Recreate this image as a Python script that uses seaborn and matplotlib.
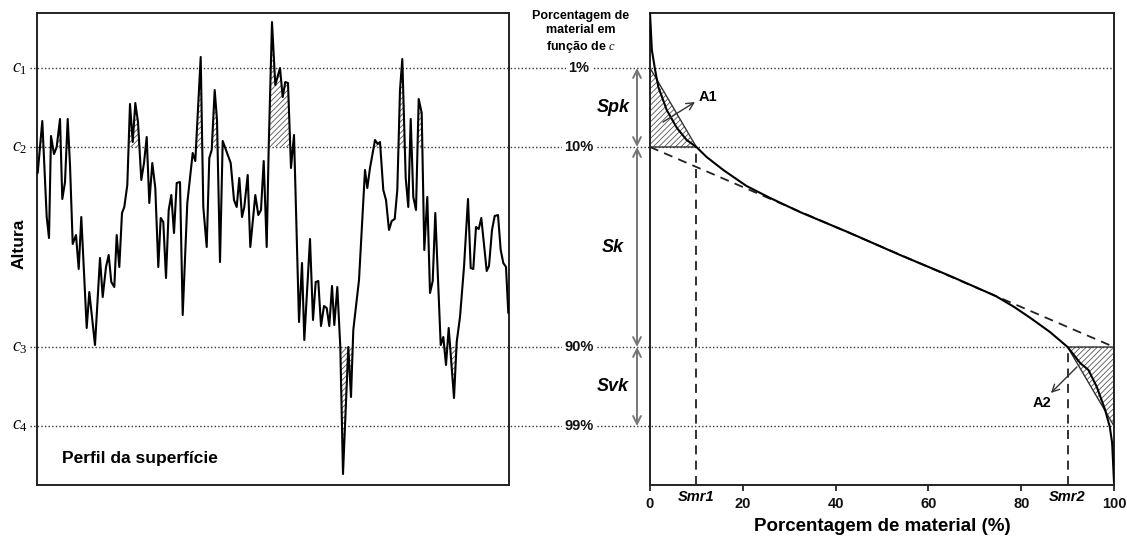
import matplotlib
matplotlib.use("Agg")
import numpy as np
import pandas as pd
import seaborn as sns
import matplotlib.pyplot as plt
import matplotlib.transforms as mtransforms
from matplotlib.patches import Polygon

# ---------------- data ----------------
profile_x = [0.7, 5.3, 9.7, 12, 14, 17, 19.7, 23, 25.3, 28,
             30.7, 33, 35.7, 39, 41.7, 44.3, 49.7, 52.3, 58, 63,
             65.7, 69, 71.7, 74.3, 77.3, 79.7, 82.3, 85, 87.3, 90.3,
             93, 95.7, 98.3, 101, 104.3, 107, 109.7, 112.3, 115.3, 118.3,
             121.3, 123.7, 126.3, 129, 131.7, 134.3, 137, 139.7, 143, 145.7,
             150.3, 155.7, 158.3, 163.7, 166.3, 169.7, 172.3, 174.7, 177.7, 180,
             183, 185.7, 189.7, 193.7, 197, 199.7, 202.3, 205, 207.3, 210.7,
             213.3, 218.3, 221.3, 224, 226.7, 229.7, 231.7, 235, 238.3, 243,
             245.7, 248.3, 251, 254, 257, 262, 265, 267.3, 273, 276,
             278.7, 281.3, 284, 287, 289.7, 292.3, 295, 297.3, 300.3, 303.3,
             306, 311.3, 314, 316.3, 322, 328, 330.3, 333, 338, 340.7,
             343, 346.3, 349, 352, 354.7, 357.7, 360.3, 363, 365.3, 368.7,
             371.3, 373.7, 376.3, 379, 381.7, 384.7, 387.3, 390.3, 393, 395.7,
             398.3, 403.7, 406.3, 409, 411.7, 417, 419.7, 423, 427, 431,
             433.7, 436.3, 439, 441.7, 444.3, 449.7, 452, 455, 457.7, 461,
             463.7, 466.3, 469, 471.3]
profile_h = [312, 364, 268, 247, 349, 331, 338, 366, 286, 303,
             366, 320, 241, 250, 216, 268, 157, 193, 140, 227,
             188, 218, 230, 203, 198, 250, 218, 272, 278, 300,
             381, 343, 382, 363, 305, 322, 348, 282, 322, 297,
             218, 267, 263, 207, 275, 290, 252, 302, 303, 170,
             282, 332, 324, 428, 278, 238, 327, 335, 395, 365,
             223, 344, 333, 322, 285, 278, 307, 268, 278, 310,
             238, 290, 270, 275, 324, 238, 338, 463, 400, 417,
             388, 403, 402, 317, 350, 163, 222, 145, 246, 165,
             203, 204, 159, 179, 177, 159, 199, 160, 198, 138,
             11, 138, 88, 155, 205, 315, 297, 317, 345, 341,
             343, 295, 285, 255, 264, 266, 295, 395, 426, 307,
             278, 366, 288, 275, 386, 372, 235, 288, 192, 204,
             272, 140, 148, 120, 157, 87, 143, 168, 218, 286,
             217, 216, 258, 256, 267, 214, 219, 255, 269, 270,
             235, 222, 218, 172]

c_levels = [417, 338, 138, 59]
c_subs = ["1", "2", "3", "4"]
pct_labels = ["1%", "10%", "90%", "99%"]

material = [0, 0.4, 1.1, 1.8, 3.6, 5.8, 7.9, 10.0, 12.2, 15.8, 20.8, 25.9, 32.3,
            43.1, 53.9, 64.7, 74.5, 78.5, 82.0, 86.2, 90.0, 92.7, 94.5, 96.3, 98.1,
            99.1, 99.6, 100]
curve_h = [472, 435, 415, 398, 375, 357, 345, 338, 328, 315, 299, 287, 273,
           252, 230, 209, 189, 178, 167, 153, 138, 122, 115, 98, 75, 58, 42, 3]

smr1, smr2 = 10, 90
x_ticks = [0, 20, 40, 60, 80, 100]
zone_labels = ["Spk", "Sk", "Svk"]

# ---------------- style ----------------
sns.set_theme(style="white")
plt.rcParams["font.family"] = ["Liberation Sans", "DejaVu Sans"]
plt.rcParams["text.color"] = "black"
plt.rcParams["axes.labelcolor"] = "black"
plt.rcParams["mathtext.fontset"] = "custom"
plt.rcParams["mathtext.it"] = "Liberation Serif:italic"
plt.rcParams["mathtext.rm"] = "Liberation Serif"
plt.rcParams["hatch.linewidth"] = 0.6

W, H = 1127, 537
fig = plt.figure(figsize=(W / 100, H / 100), dpi=100)
fx = lambda p: p / W
fy = lambda p: 1 - p / H

ax_l = fig.add_axes([fx(37), fy(485), fx(509) - fx(37), fy(13) - fy(485)])
ax_r = fig.add_axes([fx(650), fy(485), fx(1114) - fx(650), fy(13) - fy(485)])
ax_r.set_facecolor("none")

ymin, ymax = 0, 472
for ax in (ax_l, ax_r):
    ax.set_ylim(ymin, ymax)
    for s in ax.spines.values():
        s.set_color("#222")
        s.set_linewidth(1.4)
ax_l.set_xlim(0, 472)
ax_r.set_xlim(0, 100)

# ---------------- left: profile ----------------
px = np.array(profile_x)
ph = np.array(profile_h)
ax_l.fill_between(px, ph, c_levels[1], where=ph > c_levels[1], interpolate=True,
                  facecolor="none", edgecolor="#555", hatch="//////", linewidth=0, zorder=1.5)
ax_l.fill_between(px, ph, c_levels[2], where=ph < c_levels[2], interpolate=True,
                  facecolor="none", edgecolor="#555", hatch="//////", linewidth=0, zorder=1.5)
sns.lineplot(x=profile_x, y=profile_h, ax=ax_l, sort=False, estimator=None,
             color="black", linewidth=1.5, zorder=3)
ax_l.set_xticks([])
ax_l.set_yticks([])
ax_l.set_xlabel("")
ax_l.set_ylabel("")

# dotted reference lines across the whole figure
blend = mtransforms.blended_transform_factory(fig.transFigure, ax_l.transData)
for c, sub, lab in zip(c_levels, c_subs, pct_labels):
    ax_l.plot([fx(30), fx(1114)], [c, c], transform=blend, clip_on=False,
              linestyle=(0, (1, 1.6)), color="#333", linewidth=1.0, zorder=1)
    ax_l.text(fx(20), c, r"$\mathit{c}_{\mathit{" + sub + "}}$", transform=blend,
              ha="center", va="center", fontsize=13, clip_on=False)
    ax_l.text(fx(579), c, lab, transform=blend, ha="center", va="center",
              fontsize=10.5, fontweight="bold", color="#111", zorder=5, clip_on=False,
              bbox=dict(facecolor="white", edgecolor="none", pad=1.5))

fig.text(fx(19), fy(244), "Altura", rotation=90, ha="center", va="center",
         fontsize=12.5, fontweight="bold")
fig.text(fx(62), fy(459), "Perfil da superfície", ha="left", va="center",
         fontsize=12.5, fontweight="bold")

# ---------------- right: bearing curve ----------------
hatch_kw = dict(facecolor="none", edgecolor="#555", hatch="//////", linewidth=0, zorder=1.5)
a1 = [(0, c_levels[0]), (0, c_levels[1]), (smr1, c_levels[1])]
a2 = [(smr2, c_levels[2]), (100, c_levels[2]), (100, c_levels[3])]
for tri in (a1, a2):
    ax_r.add_patch(Polygon(tri, closed=True, **hatch_kw))
    ax_r.add_patch(Polygon(tri, closed=True, facecolor="none", edgecolor="#333",
                           linewidth=1.0, zorder=1.6))

sns.lineplot(x=material, y=curve_h, ax=ax_r, sort=False, estimator=None,
             color="black", linewidth=1.5, zorder=3)

dash = (0, (5, 3.5))
ax_r.plot([0, 100], [c_levels[1], c_levels[2]], linestyle=dash, color="#222", linewidth=1.3, zorder=2)
ax_r.plot([smr1, smr1], [ymin, c_levels[1]], linestyle=dash, color="#222", linewidth=1.3, zorder=2)
ax_r.plot([smr2, smr2], [ymin, c_levels[2]], linestyle=dash, color="#222", linewidth=1.3, zorder=2)

ax_r.set_xticks(x_ticks)
ax_r.set_xticklabels([str(v) for v in x_ticks], fontsize=10.5, fontweight="bold")
ax_r.set_yticks([])
ax_r.tick_params(axis="x", direction="out", length=4, width=1.2, pad=5, colors="#111", bottom=True)
ax_r.set_ylabel("")
ax_r.set_xlabel("Porcentagem de material (%)", fontsize=13.5, fontweight="bold", labelpad=5)

blend_xfig_xdata = mtransforms.blended_transform_factory(ax_r.transData, fig.transFigure)
for v, lab in ((smr1, "Smr1"), (smr2, "Smr2")):
    ax_r.text(v, fy(497), lab, transform=blend_xfig_xdata, ha="center", va="center",
              fontsize=10.5, fontweight="bold", fontstyle="italic", clip_on=False)

# zone double arrows and labels
blend_r = mtransforms.blended_transform_factory(fig.transFigure, ax_r.transData)
bounds = [(c_levels[0], c_levels[1]), (c_levels[1], c_levels[2]), (c_levels[2], c_levels[3])]
for (top, bot), lab in zip(bounds, zone_labels):
    ax_r.annotate("", xy=(fx(637), bot), xytext=(fx(637), top),
                  xycoords=blend_r, textcoords=blend_r, annotation_clip=False,
                  arrowprops=dict(arrowstyle="<->", color="#777", lw=1.4,
                                  shrinkA=0, shrinkB=0, mutation_scale=14))
    ax_r.text(fx(613), (top + bot) / 2, lab, transform=blend_r, ha="center", va="center",
              fontsize=13, fontweight="bold", fontstyle="italic", clip_on=False)

fig.text(fx(581), fy(10), "Porcentagem de\nmaterial em\nfunção de $c$", ha="center", va="top",
         fontsize=9, fontweight="bold", linespacing=1.25)

# A1 / A2 annotations
ax_r.annotate("", xy=(9.7, 383), xytext=(2.8, 363),
              arrowprops=dict(arrowstyle="->", color="#333", lw=1.0, shrinkA=0, shrinkB=0,
                              mutation_scale=13))
ax_r.text(12.5, 388, "A1", ha="center", va="center", fontsize=10.5, fontweight="bold")
ax_r.annotate("", xy=(86.4, 92), xytext=(92.0, 118),
              arrowprops=dict(arrowstyle="->", color="#333", lw=1.0, shrinkA=0, shrinkB=0,
                              mutation_scale=13))
ax_r.text(84.5, 82, "A2", ha="center", va="center", fontsize=10.5, fontweight="bold")

fig.savefig("out.png", dpi=100)
